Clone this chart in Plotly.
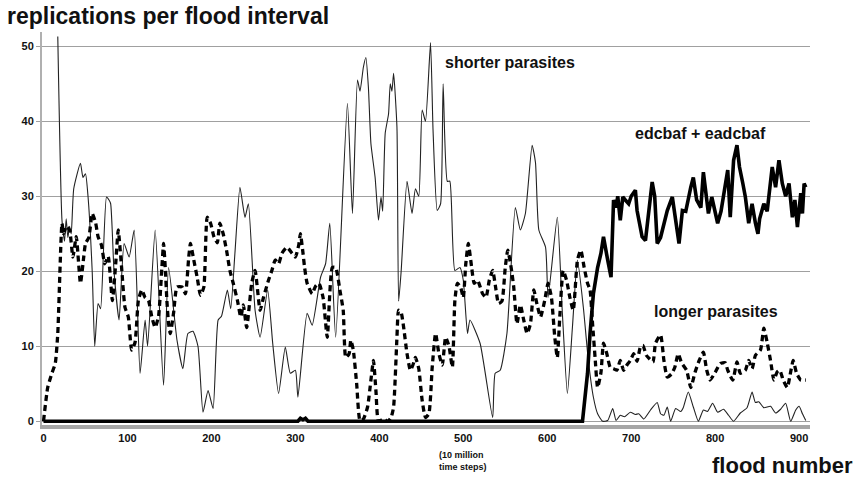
import plotly.graph_objects as go

# shorter parasites (thin line)
short_x = [17, 22, 25, 27, 29, 31, 33, 36, 44, 47, 50, 53, 58, 61, 65, 68, 75, 78, 80, 84, 90, 96, 102, 108, 115, 121, 124, 133, 143, 149, 159, 166, 172, 178, 184, 190, 196, 202, 208, 212, 219, 223, 228, 234, 240, 244, 252, 258, 267, 273, 280, 288, 294, 300, 303, 314, 320, 330, 336, 341, 348, 362, 368, 374, 377, 381, 384, 387, 390, 395, 399, 402, 404, 407, 411, 413, 415, 417, 421, 423, 426, 433, 439, 443, 447, 451, 455, 461, 464, 469, 473, 476, 481, 484, 490, 496, 500, 505, 508, 520, 535, 538, 544, 552, 562, 568, 574, 582, 586, 590, 598, 601, 612, 618, 624, 630, 636, 643, 649, 655, 660, 666, 672, 678, 682, 687, 692, 699, 705, 709, 715, 723, 731, 735, 739, 743, 747, 753, 759, 762, 768, 774, 780, 786, 791, 797, 803, 810, 816, 822, 830, 838, 844, 848, 852, 858, 866, 872, 878, 884, 890, 896, 900, 904, 908]
short_y = [51.3, 26.8, 24, 27, 24.5, 26, 25, 31, 34.4, 32.5, 33, 30, 20, 10, 15.7, 15, 29.9, 29.5, 29, 20, 13.5, 23.7, 21.9, 25.5, 6.4, 13.5, 10, 25.5, 4.8, 20.5, 10.8, 7, 11.7, 12, 10, 1.2, 4.1, 1.7, 13.5, 14, 17.5, 15, 22.4, 31.2, 27.2, 29, 14.8, 11.2, 17.5, 10.4, 3.7, 9.9, 6.4, 6.8, 3.2, 14.4, 12.8, 19.2, 21, 26.4, 11.2, 42.4, 27.7, 45.5, 44, 47.2, 48.5, 44.5, 37, 32.5, 26.8, 29.9, 28, 38.4, 41, 45, 44, 46.4, 39.2, 16, 20, 32, 27.7, 31, 30, 41.5, 40, 50.5, 38.8, 28.1, 29, 45, 32, 32, 20.1, 20.5, 18.8, 11.7, 13.5, 10.4, 0.5, 6.4, 6.8, 11.7, 28.5, 25.5, 27.7, 36.8, 34.5, 25.5, 23.2, 16.5, 27.2, 14.5, 3.7, 12.5, 21.5, 15.2, 8.1, 3.2, 1.0, 0, 0.1, 1.7, 0.1, 0.8, 0.6, 1.2, 0.9, 1.0, 0.3, 1.5, 2.5, 1, 0.8, 1.9, 0, 1.7, 1.3, 1.8, 3.9, 1.9, 0, 1.5, 1.3, 2.4, 1.2, 1.6, 0.8, 0, 1.1, 1.8, 3.9, 2.5, 2.6, 1.8, 2.0, 1.1, 1.6, 2.4, 0, 1.5, 2.0, 1, 0.1]

# longer parasites (dashed line)
long_x = [0, 5, 10, 14, 17, 22, 24, 27, 31, 35, 39, 44, 48, 50, 54, 58, 62, 65, 69, 73, 77, 82, 86, 89, 93, 97, 101, 105, 109, 113, 117, 121, 125, 129, 133, 137, 141, 143, 145, 147, 149, 151, 155, 159, 165, 169, 173, 175, 179, 183, 187, 191, 195, 199, 203, 207, 210, 214, 218, 222, 226, 231, 235, 238, 242, 248, 252, 258, 262, 268, 272, 276, 280, 284, 290, 296, 300, 304, 306, 309, 311, 314, 320, 324, 328, 333, 338, 344, 348, 353, 357, 360, 364, 366, 369, 373, 377, 381, 386, 390, 393, 396, 399, 405, 410, 414, 417, 421, 423, 426, 429, 433, 437, 440, 443, 447, 451, 455, 459, 463, 467, 471, 475, 479, 483, 487, 490, 493, 497, 500, 503, 506, 510, 513, 517, 523, 527, 531, 535, 539, 542, 546, 550, 553, 557, 560, 564, 568, 572, 576, 580, 584, 588, 592, 597, 601, 605, 609, 612, 615, 619, 623, 627, 631, 636, 640, 644, 648, 651, 654, 657, 660, 664, 667, 671, 675, 679, 683, 687, 691, 695, 699, 703, 707, 711, 714, 718, 722, 726, 729, 735, 739, 743, 748, 752, 756, 760, 766, 771, 776, 781, 786, 790, 794, 800, 806, 812, 815, 821, 826, 830, 836, 840, 844, 848, 854, 858, 862, 866, 870, 874, 877, 881, 886, 889, 893, 897, 902, 908]
long_y = [0, 4.5, 6.4, 7.7, 11.7, 26.4, 25, 26, 25.5, 21.9, 24.6, 18.4, 22, 23.7, 24.5, 27.7, 26.5, 24.6, 23.5, 21, 22, 16.1, 21, 25.5, 20.5, 15.2, 13.9, 9.5, 10.5, 16.1, 17.5, 16.5, 16.1, 13.9, 12.5, 14, 20.5, 23.7, 20.5, 16, 13, 11.7, 14.5, 17.9, 17.9, 17, 21.9, 23.7, 21.5, 19.2, 16.8, 17.9, 27.2, 26.4, 24.6, 23.8, 26.4, 25, 22.8, 20.1, 18.4, 16.1, 13.9, 15.5, 12.5, 18.4, 20.1, 14.8, 16.5, 18.8, 20.1, 21.5, 21, 22.4, 23.2, 22.4, 21.9, 23.5, 25, 22.5, 20.5, 18.4, 17, 18, 18.4, 16.5, 11.2, 20.5, 20.5, 17.5, 14.8, 8.5, 9, 10.8, 9.5, 5, 0.1, 0.3, 1.9, 5.5, 8.1, 4, 0, 0.3, 0, 0.5, 1.9, 11.2, 14.8, 14.5, 12.5, 9, 6.8, 7.5, 8.5, 7, 2.8, 0.5, 1, 7.2, 11.7, 9, 7.5, 11.2, 10, 7.2, 16.1, 18.4, 17.8, 16.5, 21, 23.7, 20.5, 18.4, 18.8, 17, 16.5, 18.8, 20.1, 17.5, 15.7, 16, 20.5, 22.8, 20.5, 18, 13, 15.5, 13.5, 11.7, 13, 17.5, 15.5, 13.9, 16.1, 18.4, 16.5, 11.2, 8.5, 14, 20.1, 18.8, 16.5, 14.8, 21.5, 22.8, 20.5, 18.4, 17.5, 13, 8.5, 4.5, 6.5, 10.4, 9, 7.2, 7, 6.8, 8.1, 6.8, 7.5, 8.1, 9, 8, 9.9, 10.1, 8.8, 8.3, 7.9, 10.4, 11.5, 8.1, 5.9, 6.3, 7.2, 9, 7.8, 6.8, 4.5, 6.5, 8.1, 9.2, 6.8, 5.5, 6.5, 7.7, 7.8, 6.8, 5.5, 7.9, 6.4, 6.8, 8.1, 7, 8.8, 9.5, 12.4, 10.5, 8.1, 5.5, 6.6, 6.8, 5.5, 4.5, 6, 8.1, 6.4, 5.5, 5.5]

# edcbaf + eadcbaf (thick line)
edc_x = [0, 303, 306, 309, 312, 315, 642, 648, 651, 655, 660, 664, 667, 670, 672, 676, 679, 682, 684, 687, 690, 693, 697, 700, 705, 707, 710, 713, 717, 721, 725, 728, 731, 735, 739, 743, 749, 753, 757, 761, 765, 771, 774, 778, 783, 786, 789, 792, 796, 800, 803, 807, 812, 815, 818, 822, 826, 829, 833, 836, 840, 844, 848, 851, 853, 858, 862, 868, 872, 876, 880, 884, 888, 892, 895, 898, 902, 904, 906, 908]
edc_y = [0, 0, 0.4, 0.2, 0.4, 0, 0, 6.4, 11.7, 17, 20.5, 22.4, 24.6, 23, 21.5, 19.2, 29.5, 28.5, 30, 26.8, 29.9, 29.5, 29, 30, 30.8, 28.1, 26, 24.6, 24.1, 28.5, 31.9, 30, 23.7, 24.5, 26.4, 28.1, 29.9, 26.4, 23.7, 28.1, 28, 31.2, 32.5, 29.5, 28.5, 33.2, 30, 27.7, 29.9, 28, 26.4, 28, 31.2, 33.5, 27.2, 34.8, 36.8, 33.9, 31.7, 29.9, 26.4, 29, 26.4, 25, 27, 29, 28, 33.9, 31.2, 34.8, 31.7, 30, 31.7, 27.2, 29.5, 25.9, 30.4, 27.7, 31.7, 31.2]

y_ticks = [0, 10, 20, 30, 40, 50]
x_ticks = [0, 100, 200, 300, 400, 500, 600, 700, 800, 900]

FONT = "Liberation Sans, Arial, sans-serif"

fig = go.Figure()
fig.add_trace(go.Scatter(x=short_x, y=short_y, mode="lines",
                         line=dict(color="#222222", width=1.1, shape="spline", smoothing=0.5),
                         name="shorter parasites"))
fig.add_trace(go.Scatter(x=long_x, y=long_y, mode="lines",
                         line=dict(color="#000000", width=3.3, dash="6px,4px", shape="spline", smoothing=0.5),
                         name="longer parasites"))
fig.add_trace(go.Scatter(x=edc_x, y=edc_y, mode="lines",
                         line=dict(color="#000000", width=3.6),
                         name="edcbaf + eadcbaf"))

fig.update_layout(
    width=859, height=479,
    margin=dict(l=42, r=49, t=32, b=54),
    paper_bgcolor="white", plot_bgcolor="white",
    showlegend=False,
    font=dict(family=FONT, color="#111111"),
    xaxis=dict(range=[-1.8, 913], tickvals=x_ticks, showgrid=False, zeroline=False,
               showline=True, linecolor="#a6a6a6", linewidth=4,
               ticks="", tickfont=dict(size=11, family=FONT, color="#111111", weight="bold")),
    yaxis=dict(range=[-0.5, 51.9], tickvals=y_ticks, showgrid=True, gridcolor="#a0a0a0", gridwidth=1,
               zeroline=False, showline=True, linecolor="#b0b0b0", linewidth=2,
               ticks="outside", ticklen=4, tickcolor="#a0a0a0",
               tickfont=dict(size=11, family=FONT, color="#111111", weight="bold")),
)

bold = dict(family=FONT, color="#111111", weight="bold")
fig.add_annotation(text="replications per flood interval", xref="paper", yref="paper",
                   x=-0.048, y=1.041, xanchor="left", yanchor="middle", showarrow=False,
                   font=dict(size=23, **bold))
fig.add_annotation(text="flood number", xref="paper", yref="paper",
                   x=1.0586, y=-0.104, xanchor="right", yanchor="middle", showarrow=False,
                   font=dict(size=22, **bold))
fig.add_annotation(text="(10 million<br>time steps)", xref="x", yref="paper",
                   x=500, y=-0.092, xanchor="center", yanchor="middle", showarrow=False,
                   align="left", font=dict(size=9, **bold))
fig.add_annotation(text="shorter parasites", x=556, y=47.9, xref="x", yref="y",
                   showarrow=False, font=dict(size=16, **bold))
fig.add_annotation(text="edcbaf + eadcbaf", x=782, y=38.4, xref="x", yref="y",
                   showarrow=False, font=dict(size=16, **bold))
fig.add_annotation(text="longer parasites", x=801, y=14.7, xref="x", yref="y",
                   showarrow=False, font=dict(size=16, **bold))

fig.write_html("out.html")
